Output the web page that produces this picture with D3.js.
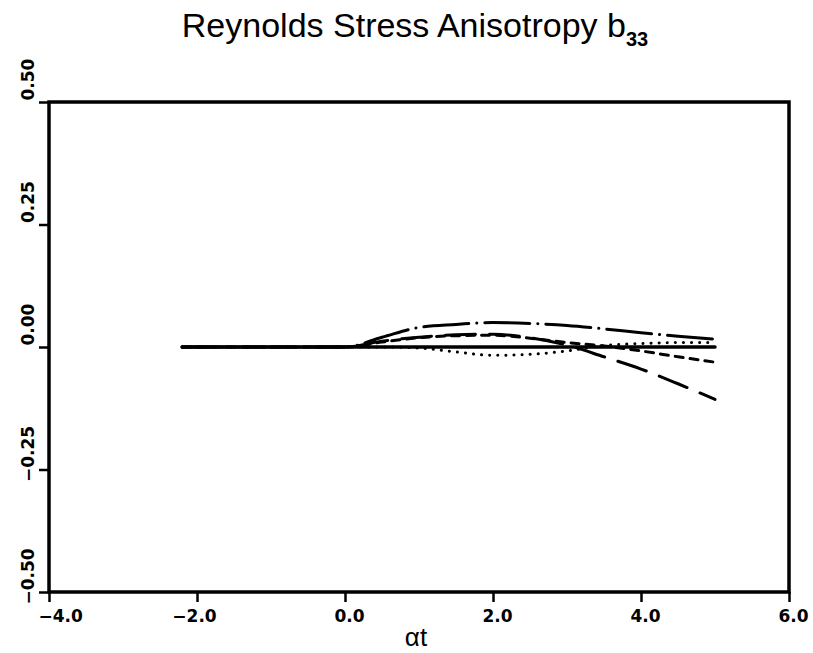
<!DOCTYPE html>
<html>
<head>
<meta charset="utf-8">
<script src="https://cdn.jsdelivr.net/npm/d3@7"></script>
<style>
  html, body { margin: 0; padding: 0; background: #fff; }
  svg { display: block; }
</style>
</head>
<body>
<svg id="chart" width="813" height="653"></svg>
<script>
// ---- data ----
const alphaT      = [-2.2, 0.0, 0.5, 1.0, 1.5, 2.0, 2.5, 3.0, 3.5, 4.0, 4.5, 5.0];
const solidB33    = [0, 0, 0, 0, 0, 0, 0, 0, 0, 0, 0, 0];
const dashDotB33  = [0, 0, 0.020, 0.040, 0.046, 0.050, 0.048, 0.044, 0.037, 0.029, 0.022, 0.016];
const longDashB33 = [0, 0, 0.012, 0.020, 0.025, 0.026, 0.019, 0.004, -0.020, -0.045, -0.075, -0.107];
const shortDashB33= [0, 0, 0.010, 0.019, 0.023, 0.024, 0.018, 0.009, 0.002, -0.008, -0.020, -0.031];
const dottedB33   = [0, 0, 0, -0.002, -0.010, -0.017, -0.015, -0.008, 0.003, 0.007, 0.009, 0.009];

const xTicks = [-4, -2, 0, 2, 4, 6];
const yTicks = [-0.5, -0.25, 0, 0.25, 0.5];
const titleText = "Reynolds Stress Anisotropy b";
const titleSub = "33";
const xLabel = "αt";

// ---- layout ----
const svg = d3.select("#chart");
const pLeft = 49, pRight = 789, pTop = 102, pBottom = 592;
const x = d3.scaleLinear().domain([-4, 6]).range([pLeft, pRight]);
const y = d3.scaleLinear().domain([-0.5, 0.5]).range([pBottom, pTop]);

const fmtX = v => (v < 0 ? "\u2212" : "") + Math.abs(v).toFixed(1);
const fmtY = v => (v < 0 ? "\u2212" : "") + Math.abs(v).toFixed(2);

// title
const title = svg.append("text")
  .attr("x", 415).attr("y", 37)
  .attr("text-anchor", "middle")
  .attr("font-family", "Liberation Sans, Arial, sans-serif")
  .attr("font-size", 34)
  .attr("fill", "#000");
title.append("tspan").text(titleText);
title.append("tspan").attr("dy", 9).attr("font-size", 20).attr("font-weight", "bold").text(titleSub);

// lines
const line = d3.line().x((d, i) => x(alphaT[i])).y(d => y(d)).curve(d3.curveMonotoneX);
const series = [
  { vals: dottedB33,    dash: "0.1,8",        w: 3 },
  { vals: shortDashB33, dash: "8,7",          w: 3 },
  { vals: longDashB33,  dash: "30,14",        w: 3 },
  { vals: dashDotB33,   dash: "45,8,0.1,8",   w: 3 },
  { vals: solidB33,     dash: null,           w: 3.5 }
];
series.forEach(s => {
  svg.append("path")
    .attr("d", line(s.vals))
    .attr("fill", "none")
    .attr("stroke", "#000")
    .attr("stroke-width", s.w)
    .attr("stroke-linecap", "round")
    .attr("stroke-dasharray", s.dash);
});

// frame
svg.append("rect")
  .attr("x", pLeft).attr("y", pTop)
  .attr("width", pRight - pLeft).attr("height", pBottom - pTop)
  .attr("fill", "none").attr("stroke", "#000").attr("stroke-width", 3.5);

// x axis ticks + labels
const xAxis = svg.append("g").attr("transform", `translate(0,${pBottom})`)
  .call(d3.axisBottom(x).tickValues(xTicks).tickSize(10).tickFormat(fmtX));
xAxis.select(".domain").remove();
xAxis.selectAll(".tick line").attr("stroke", "#000").attr("stroke-width", 2.5);
xAxis.selectAll(".tick text")
  .attr("font-family", "DejaVu Sans, sans-serif")
  .attr("font-weight", "bold")
  .attr("font-size", 17)
  .attr("fill", "#000")
  .attr("y", 30).attr("dy", 0)
  .attr("x", d => d < 0 ? -3 : 4)
  .each(function(d) {
    const w = this.getComputedTextLength();
    const cx = x(d) + (d < 0 ? -3 : 4);
    if (cx - w / 2 < 38) d3.select(this).attr("x", 38 + w / 2 - x(d));
  });

// y axis ticks + labels
const yAxis = svg.append("g").attr("transform", `translate(${pLeft},0)`)
  .call(d3.axisLeft(y).tickValues(yTicks).tickSize(10).tickFormat(fmtY));
yAxis.select(".domain").remove();
yAxis.selectAll(".tick line").attr("stroke", "#000").attr("stroke-width", 2.5);
yAxis.selectAll(".tick text")
  .attr("font-family", "DejaVu Sans, sans-serif")
  .attr("font-weight", "bold")
  .attr("font-size", 17)
  .attr("fill", "#000")
  .attr("text-anchor", "start")
  .attr("dy", 0)
  .attr("x", 0).attr("y", 0)
  .attr("transform", d => `translate(${34 - pLeft},${-2 + (d < 0 ? 14 : 0)}) rotate(-90)`);

// x axis title
svg.append("text")
  .attr("x", 416).attr("y", 646)
  .attr("text-anchor", "middle")
  .attr("font-family", "Liberation Sans, Arial, sans-serif")
  .attr("font-size", 26)
  .attr("fill", "#000")
  .text(xLabel);
</script>
</body>
</html>
